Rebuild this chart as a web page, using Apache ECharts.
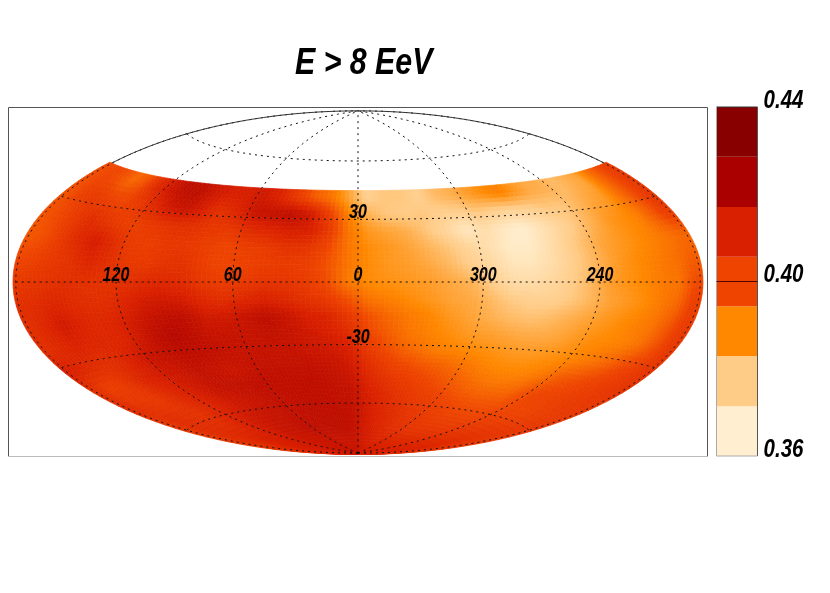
<!DOCTYPE html>
<html><head><meta charset="utf-8">
<style>html,body{margin:0;padding:0;background:#fff}#c{width:830px;height:593px}</style>
<script src="https://cdn.jsdelivr.net/npm/echarts@6/dist/echarts.min.js"></script>
</head><body><div id="c"></div>
<script>
// Sky values in thousandths, one row per declination band, columns from RA 175 (left) through 0 to RA 185 (right).
const latCenters = [40,32,24,16,8,0,-8,-16,-24,-32,-40,-48,-56,-64,-72,-80,-88];
const lonCenters = [-175,-165,-155,-145,-135,-125,-115,-105,-95,-85,-75,-65,-55,-45,-35,-25,-15,-5,5,15,25,35,45,55,65,75,85,95,105,115,125,135,145,155,165,175];
const rowP40 = [399,400,398,394,398,408,414,418,418,414,412,412,414,410,403,396,392,384,376,378,378,376,380,382,385,388,390,386,383,382,380,382,384,392,398,403];
const rowP32 = [398,402,404,402,400,403,408,414,416,412,406,410,416,417,418,414,402,390,382,378,377,378,376,376,378,376,375,376,378,378,381,384,386,392,398,404];
const rowP24 = [398,400,404,408,405,402,402,404,406,406,404,404,408,410,412,412,404,392,386,384,382,378,374,368,372,368,366,370,374,378,382,386,388,390,396,402];
const rowP16 = [397,399,404,409,413,408,403,402,404,404,402,400,402,403,406,405,400,392,388,386,384,381,378,374,371,367,367,371,376,380,384,386,388,390,392,394];
const rowP08 = [400,402,404,406,410,407,404,403,405,406,402,400,401,402,403,402,398,392,388,386,385,383,380,376,373,369,369,372,376,380,384,387,389,391,393,396];
const rowZ00 = [404,405,406,407,406,405,406,408,409,408,404,402,403,405,405,403,399,391,388,387,386,385,383,381,376,372,372,374,377,381,385,387,389,391,392,399];
const rowM08 = [407,408,410,408,407,407,410,413,414,413,409,407,409,411,409,406,403,398,392,390,388,386,384,383,380,377,376,376,378,381,384,386,388,391,394,402];
const rowM16 = [407,410,414,411,409,410,413,416,418,418,414,414,416,418,416,412,410,404,398,394,391,389,386,384,382,380,379,380,382,384,386,388,390,392,397,403];
const rowM24 = [407,409,411,410,409,410,414,418,420,418,416,416,416,417,416,414,412,408,400,396,392,390,388,386,385,384,383,383,384,386,388,389,390,393,398,404];
const rowM32 = [412,410,408,407,409,413,416,417,418,418,417,416,416,416,416,415,414,412,404,399,395,392,390,389,388,387,386,386,387,388,390,392,395,399,402,405];
const rowM40 = [406,402,403,406,410,412,414,415,417,416,415,416,417,417,417,417,416,414,408,403,400,398,396,394,392,390,389,389,390,392,396,398,400,402,404,405];
const rowM48 = [408,405,404,404,407,410,412,414,416,417,417,418,418,418,418,418,417,416,411,407,404,402,400,398,396,394,393,393,394,398,400,401,402,403,404,404];
const rowM56 = [405,408,407,406,406,408,410,412,414,415,416,417,417,418,418,418,417,417,413,410,407,405,403,402,400,399,398,398,398,399,400,400,401,402,403,404];
const rowM64 = [404,408,408,408,408,410,412,414,415,416,416,417,417,418,418,418,418,417,414,411,409,407,405,404,403,402,401,401,401,402,403,403,404,404,405,404];
const rowM72 = [404,407,409,411,412,412,413,414,416,416,417,418,418,418,418,418,418,417,414,412,410,408,407,406,405,405,405,405,405,405,406,406,407,407,406,404];
const rowM80 = [406,408,410,412,412,413,413,414,414,415,415,415,416,416,416,416,416,416,414,413,412,411,410,410,410,409,409,409,409,410,410,410,410,411,409,406];
const rowM88 = [410,411,412,412,413,413,414,414,414,414,415,415,415,415,415,415,415,415,414,414,413,413,413,412,412,412,412,412,412,412,412,412,412,412,411,410];
const skyRows = [rowP40,rowP32,rowP24,rowP16,rowP08,rowZ00,rowM08,rowM16,rowM24,rowM32,rowM40,rowM48,rowM56,rowM64,rowM72,rowM80,rowM88];

const bandEdges = [0.36,0.3714,0.3829,0.3943,0.4057,0.4171,0.4286,0.44];
const bandColors = ['#FFEFD0','#FFCC88','#FF8800','#EE4400','#D92000','#AA0000','#880000'];
const colorTicks = [0.36,0.40,0.44];
const raLabels = [120,60,0,300,240];
const decLabels = [30,-30];
const meridians = [-180,-120,-60,0,60,120,180];
const parallels = [-60,-30,0,30,60];
const titleText = 'E > 8 EeV';

const FONT = '"Liberation Sans", Arial, sans-serif';
const rad = Math.PI/180;
function hammer(lon, lat, k){
  const c = Math.cos(lat*rad), d = Math.sqrt(1 + c*Math.cos(lon*rad/2));
  const s = k || 1;
  return [s*2*Math.SQRT2*c*Math.sin(lon*rad/2)/d, s*Math.SQRT2*Math.sin(lat*rad)/d];
}
function clampIdx(v, n){ return Math.max(0, Math.min(n-1, v)); }
function sample(lon, lat){
  const fx = (lon - lonCenters[0]) / (lonCenters[1]-lonCenters[0]);
  const fy = (latCenters[0] - lat) / (latCenters[0]-latCenters[1]);
  const x0 = Math.floor(fx), y0 = Math.floor(fy), tx = fx-x0, ty = fy-y0;
  const g = (r,c)=> skyRows[clampIdx(r,skyRows.length)][clampIdx(c,lonCenters.length)];
  return (g(y0,x0)*(1-tx)+g(y0,x0+1)*tx)*(1-ty)+(g(y0+1,x0)*(1-tx)+g(y0+1,x0+1)*tx)*ty;
}
const centers = bandEdges.slice(0,-1).map((e,i)=>(e+bandEdges[i+1])/2);
function colorOf(th){
  const v = th/1000;
  const t = (v-centers[0])/(centers[centers.length-1]-centers[0]);
  return echarts.color.lerp(Math.max(0,Math.min(1,t)), bandColors);
}

const cellData = [];
latCenters.forEach((lat,r)=>lonCenters.forEach((lon,c)=>cellData.push([lon,lat,skyRows[r][c]])));
const SUB = 4, MAPK = 1.008;
function renderCell(params, api){
  const lon = api.value(0), lat = api.value(1);
  const lon0 = lon-5, top = Math.min(44,lat+4), bot = Math.max(-90,lat-4);
  const children = [];
  for(let i=0;i<SUB;i++) for(let j=0;j<SUB;j++){
    const a = lon0+10*i/SUB, b = lon0+10*(i+1)/SUB;
    const u = top+(bot-top)*j/SUB, w = top+(bot-top)*(j+1)/SUB;
    const pts = [[a,u],[b,u],[b,w],[a,w]].map(p=>api.coord(hammer(p[0],p[1],MAPK)));
    const col = colorOf(sample((a+b)/2,(u+w)/2));
    children.push({type:'polygon',shape:{points:pts},style:{fill:col,stroke:col,lineWidth:0.7},silent:true});
  }
  return {type:'group',children};
}
function gridPath(kind, val){
  const pts=[];
  if(kind==='m'){ for(let la=-90;la<=90;la+=2) pts.push(hammer(val,la)); }
  else { for(let lo=-180;lo<=180;lo+=3) pts.push(hammer(lo,val)); }
  return pts;
}
const lineData = meridians.map(m=>['m',m]).concat(parallels.map(p=>['p',p]));
function renderLine(params, api){
  const d = lineData[params.dataIndex];
  let pts = gridPath(d[0],d[1]).map(p=>api.coord(p));
  return {type:'polyline',shape:{points:pts},style:{fill:null,stroke:'#111',lineWidth:1,lineDash:[2,4]},silent:true};
}
const arcData = [-180,180];
function renderArc(params, api){
  const lon = arcData[params.dataIndex], pts=[];
  for(let la=44;la<=90;la+=1) pts.push(api.coord(hammer(lon,la)));
  return {type:'polyline',shape:{points:pts},style:{fill:null,stroke:'#333',lineWidth:1},silent:true};
}
function labelEl(pt, text, size, sx, dy){
  return {type:'text',x:pt[0],y:pt[1]+dy,scaleX:sx,silent:true,
    style:{text:String(text),fill:'#000',font:'italic bold '+size+'px '+FONT,textAlign:'center',textVerticalAlign:'middle'}};
}
const mapLabels = raLabels.map(ra=>{const d=((ra+180)%360)-180;return {t:ra,p:hammer(-d,0)};})
  .concat(decLabels.map(de=>({t:de,p:hammer(0,de)})));

const chart = echarts.init(document.getElementById('c'),null,{renderer:'canvas'});
chart.setOption({
  animation:false,
  backgroundColor:'#fff',
  graphic:[{type:'text',left:295,top:45,scaleX:0.82,silent:true,
    style:{text:titleText,fill:'#000',font:'italic bold 37px '+FONT}}],
  grid:[
    {left:8.5,top:107.5,width:699,height:349,show:true,borderColor:'#555',borderWidth:1,backgroundColor:'#fff'},
    {left:716.5,top:107,width:41,height:349,show:false}
  ],
  xAxis:[
    {gridIndex:0,type:'value',min:-2.888,max:2.888,position:'bottom',
     axisLine:{show:true,onZero:false,lineStyle:{color:'#bbb',width:1}},axisTick:{show:false},axisLabel:{show:false},splitLine:{show:false}},
    {gridIndex:1,type:'value',min:0,max:1,show:false}
  ],
  yAxis:[
    {gridIndex:0,type:'value',min:-1.442,max:1.442,show:false},
    {gridIndex:1,type:'value',min:0.36,max:0.44,show:false}
  ],
  series:[
    {type:'custom',xAxisIndex:0,yAxisIndex:0,coordinateSystem:'cartesian2d',clip:false,silent:true,progressive:0,
     data:cellData,encode:{x:[],y:[]},renderItem:renderCell,z:1},
    {type:'custom',xAxisIndex:0,yAxisIndex:0,clip:false,silent:true,data:lineData.map((d,i)=>[i]),encode:{x:[],y:[]},renderItem:renderLine,z:2},
    {type:'custom',xAxisIndex:0,yAxisIndex:0,clip:false,silent:true,data:arcData.map((d,i)=>[i]),encode:{x:[],y:[]},renderItem:renderArc,z:2},
    {type:'custom',xAxisIndex:0,yAxisIndex:0,clip:false,silent:true,data:mapLabels.map((d,i)=>[i]),encode:{x:[],y:[]},z:3,
     renderItem:(params,api)=>{const m=mapLabels[params.dataIndex];return labelEl(api.coord(m.p),m.t,20,0.8,-7);}},
    {type:'custom',xAxisIndex:1,yAxisIndex:1,clip:false,silent:true,data:bandColors.map((c,i)=>[i]),encode:{x:[],y:[]},z:1,
     renderItem:(params,api)=>{
       const i=params.dataIndex,a=api.coord([0,bandEdges[i+1]]),b=api.coord([1,bandEdges[i]]);
       return {type:'rect',shape:{x:a[0],y:a[1],width:b[0]-a[0],height:b[1]-a[1]},style:{fill:bandColors[i]},silent:true};
     }},
    {type:'custom',xAxisIndex:1,yAxisIndex:1,clip:false,silent:true,data:[[0]],encode:{x:[],y:[]},z:2,
     renderItem:(params,api)=>{
       const a=api.coord([0,0.44]),b=api.coord([1,0.36]);
       return {type:'group',children:[
         {type:'line',shape:{x1:a[0],y1:a[1],x2:b[0],y2:a[1]},style:{stroke:'#333',lineWidth:1}},
         {type:'line',shape:{x1:b[0],y1:a[1],x2:b[0],y2:b[1]},style:{stroke:'#555',lineWidth:1}},
         {type:'line',shape:{x1:a[0],y1:a[1],x2:a[0],y2:b[1]},style:{stroke:'#aaa',lineWidth:1}},
         {type:'line',shape:{x1:a[0],y1:b[1],x2:b[0],y2:b[1]},style:{stroke:'#aaa',lineWidth:1}}
       ]};
     }},
    {type:'custom',xAxisIndex:1,yAxisIndex:1,clip:false,silent:true,data:colorTicks.map((c,i)=>[i]),encode:{x:[],y:[]},z:3,
     renderItem:(params,api)=>{
       const v=colorTicks[params.dataIndex],p=api.coord([1,v]),l=api.coord([0,v]);
       const kids=[labelEl([p[0]+26,p[1]],v.toFixed(2),25,0.82,-6)];
       if(v===0.40) kids.push({type:'line',shape:{x1:l[0],y1:Math.round(p[1])+0.5,x2:p[0],y2:Math.round(p[1])+0.5},style:{stroke:'#500',lineWidth:1}});
       return {type:'group',children:kids};
     }}
  ]
});
</script></body></html>
